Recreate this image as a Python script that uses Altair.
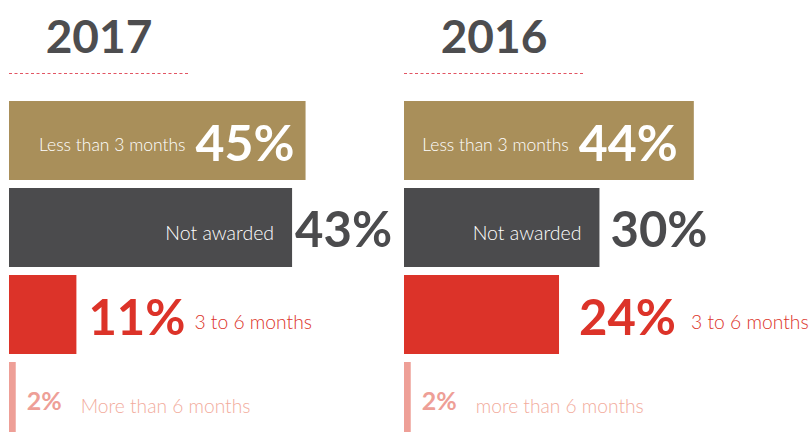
import altair as alt
import pandas as pd

years = ["2017", "2016"]
categories = ["Less than 3 months", "Not awarded", "3 to 6 months", "More than 6 months"]
labels_2017 = ["Less than 3 months", "Not awarded", "3 to 6 months", "More than 6 months"]
labels_2016 = ["Less than 3 months", "Not awarded", "3 to 6 months", "more than 6 months"]
values_2017 = [45, 43, 11, 2]
values_2016 = [44, 30, 24, 2]
colors = ["#a98f5a", "#4b4b4d", "#dc3329", "#ee9f97"]

FONT = "Lato"
TITLE_COLOR = "#4d4d4f"

# text offsets (pixels) from each bar's end, per panel
offsets_2017 = {"l0": -120, "p0": -11, "l1": -18, "p1": 3, "p2": 12, "l2": 118, "p3": 11, "l3": 65}
offsets_2016 = {"l0": -125, "p0": -16, "l1": -18, "p1": 11, "p2": 20, "l2": 132, "p3": 11, "l3": 65}


def panel(year, values, labels, off):
    df = pd.DataFrame({
        "cat": categories,
        "label": labels,
        "value": values,
        "row": list(range(len(categories))),
        "pct": [f"{v}%" for v in values],
    })
    base = alt.Chart(df)
    xscale = alt.Scale(domain=[1, 60], range=[9, 9 + 59 * 6.74], zero=False)
    x = alt.X("value:Q", scale=xscale, axis=None)
    y = alt.Y("cat:N", scale=alt.Scale(domain=categories, range=[101, 441],
                                       paddingInner=0.092, paddingOuter=0), axis=None)

    bars = base.mark_bar(clip=True).encode(
        x=x, x2=alt.datum(1), y=y,
        color=alt.Color("cat:N", scale=alt.Scale(domain=categories, range=colors), legend=None),
    )

    def txt(row, field, align, dx, dy, color, size, weight="normal"):
        return base.transform_filter(alt.datum.row == row).mark_text(
            align=align, baseline="alphabetic", dx=dx, dy=dy, color=color,
            fontSize=size, fontWeight=weight, font=FONT,
        ).encode(x=x, y=y, text=f"{field}:N")

    layers = [
        bars,
        txt(0, "label", "right", off["l0"], 11, "white", 17.5, 300),
        txt(0, "pct", "right", off["p0"], 20.5, "white", 50, "bold"),
        txt(1, "label", "right", off["l1"], 13, "white", 19.5, 300),
        txt(1, "pct", "left", off["p1"], 19.5, "#4b4b4d", 49, "bold"),
        txt(2, "pct", "left", off["p2"], 20, "#dc3329", 49, "bold"),
        txt(2, "label", "left", off["l2"], 14, "#dc3329", 19.3, 300),
        txt(3, "pct", "left", off["p3"], 8.5, "#ee9f97", 25, "bold"),
        txt(3, "label", "left", off["l3"], 11, "#f2ab9c", 19.2, 300),
    ]

    ydf = pd.DataFrame({"year": [year]})
    title = alt.Chart(ydf).mark_text(
        align="center", baseline="alphabetic", fontSize=46, fontWeight="bold",
        font=FONT, color=TITLE_COLOR,
    ).encode(x=alt.value(99), y=alt.value(53), text="year:N")
    rule = alt.Chart(ydf).mark_rule(
        color="#e25563", strokeDash=[3, 2.5], strokeWidth=1,
    ).encode(x=alt.value(9), x2=alt.value(189), y=alt.value(73.5))

    return alt.layer(*layers, title, rule).properties(width=395, height=432)


left = panel(years[0], values_2017, labels_2017, offsets_2017)
right = panel(years[1], values_2016, labels_2016, offsets_2016)

chart = alt.hconcat(left, right, spacing=0).properties(padding=0).configure_view(stroke=None)
chart.save("out.html", embed_options={"renderer": "svg", "actions": False})
